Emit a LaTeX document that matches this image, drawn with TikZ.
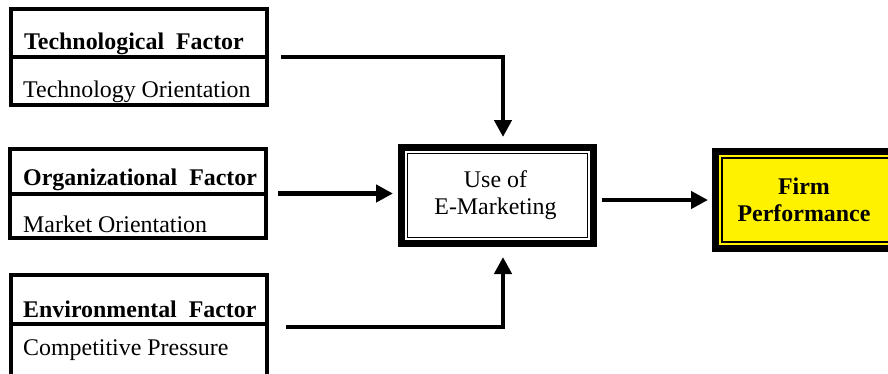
\documentclass[tikz,border=0pt]{standalone}
\usepackage{fontspec}
\setmainfont{Liberation Serif}
\usetikzlibrary{arrows.meta}

\begin{document}
\begin{tikzpicture}[x=1bp, y=-1bp,
        factorbox/.style={draw, line width=4bp, minimum width=256bp, inner sep=0pt},
        factortext/.style={anchor=base west, inner sep=0pt, font=\fontsize{24}{27}\selectfont},
        mainbox/.style={draw, line width=7bp, inner sep=0pt},
        maintext/.style={align=center, inner sep=0pt, font=\fontsize{24}{27}\selectfont},
        flowarrow/.style={line width=4.5bp, -{Triangle[width=17bp,length=17bp]}}]
        \useasboundingbox (0,0) rectangle (888,373);

        % factor boxes on the left
        \node[factorbox, minimum height=96bp] (tech) at (139,57) {};
        \node[factorbox, minimum height=89bp] (org) at (138,193.5) {};
        \node[factorbox, minimum height=108bp] (env) at (139,329) {};
        \draw[line width=4bp] (tech.west) -- (tech.east);
        \draw[line width=4bp] (org.west) -- (org.east);
        \draw[line width=4bp] ([yshift=5bp]env.west) -- ([yshift=5bp]env.east);

        \node[factortext] (techname) at (24,49) {\bfseries Technological\ \ Factor};
        \node[factortext] (techitem) at (23,97) {Technology Orientation};
        \node[factortext] (orgname) at (23,185) {\bfseries Organizational\ \ Factor};
        \node[factortext] (orgitem) at (23,232) {Market Orientation};
        \node[factortext] (envname) at (23,317) {\bfseries Environmental\ \ Factor};
        \node[factortext] (envitem) at (23,355) {Competitive Pressure};

        % use of e-marketing and firm performance
        \node[mainbox, minimum width=192bp, minimum height=96bp] (use) at (497.5,195.5) {};
        \draw[line width=1.5bp] ([shift={(9.5,9.5)}]use.north west) rectangle ([shift={(-9.5,-9.5)}]use.south east);
        \node[maintext] (usetext) at ([xshift=-2bp]use.center) {Use of\\E-Marketing};
        \node[mainbox, fill=yellow, minimum width=201bp, minimum height=97bp] (firm) at (816,200) {};
        \draw[line width=1.5bp] ([shift={(10,10)}]firm.north west) rectangle ([shift={(-10,-10)}]firm.south east);
        \node[maintext, font=\fontsize{24}{27}\selectfont\bfseries] (firmtext) at ([xshift=-12bp]firm.center) {Firm\\Performance};

        % arrows
        \draw[flowarrow, shorten <=12bp, shorten >=7bp] (tech.east) -| ([xshift=5.5bp]use.north);
        \draw[flowarrow, shorten <=10bp, shorten >=5bp] (org.east) -- (org.east -| use.west);
        \draw[flowarrow, shorten <=17bp, shorten >=10bp] ([yshift=2bp]env.east) -| ([xshift=5.5bp]use.south);
        \draw[flowarrow, shorten <=5bp, shorten >=4bp] (firm.west -| use.east) -- (firm.west);
    \end{tikzpicture}
\end{document}
